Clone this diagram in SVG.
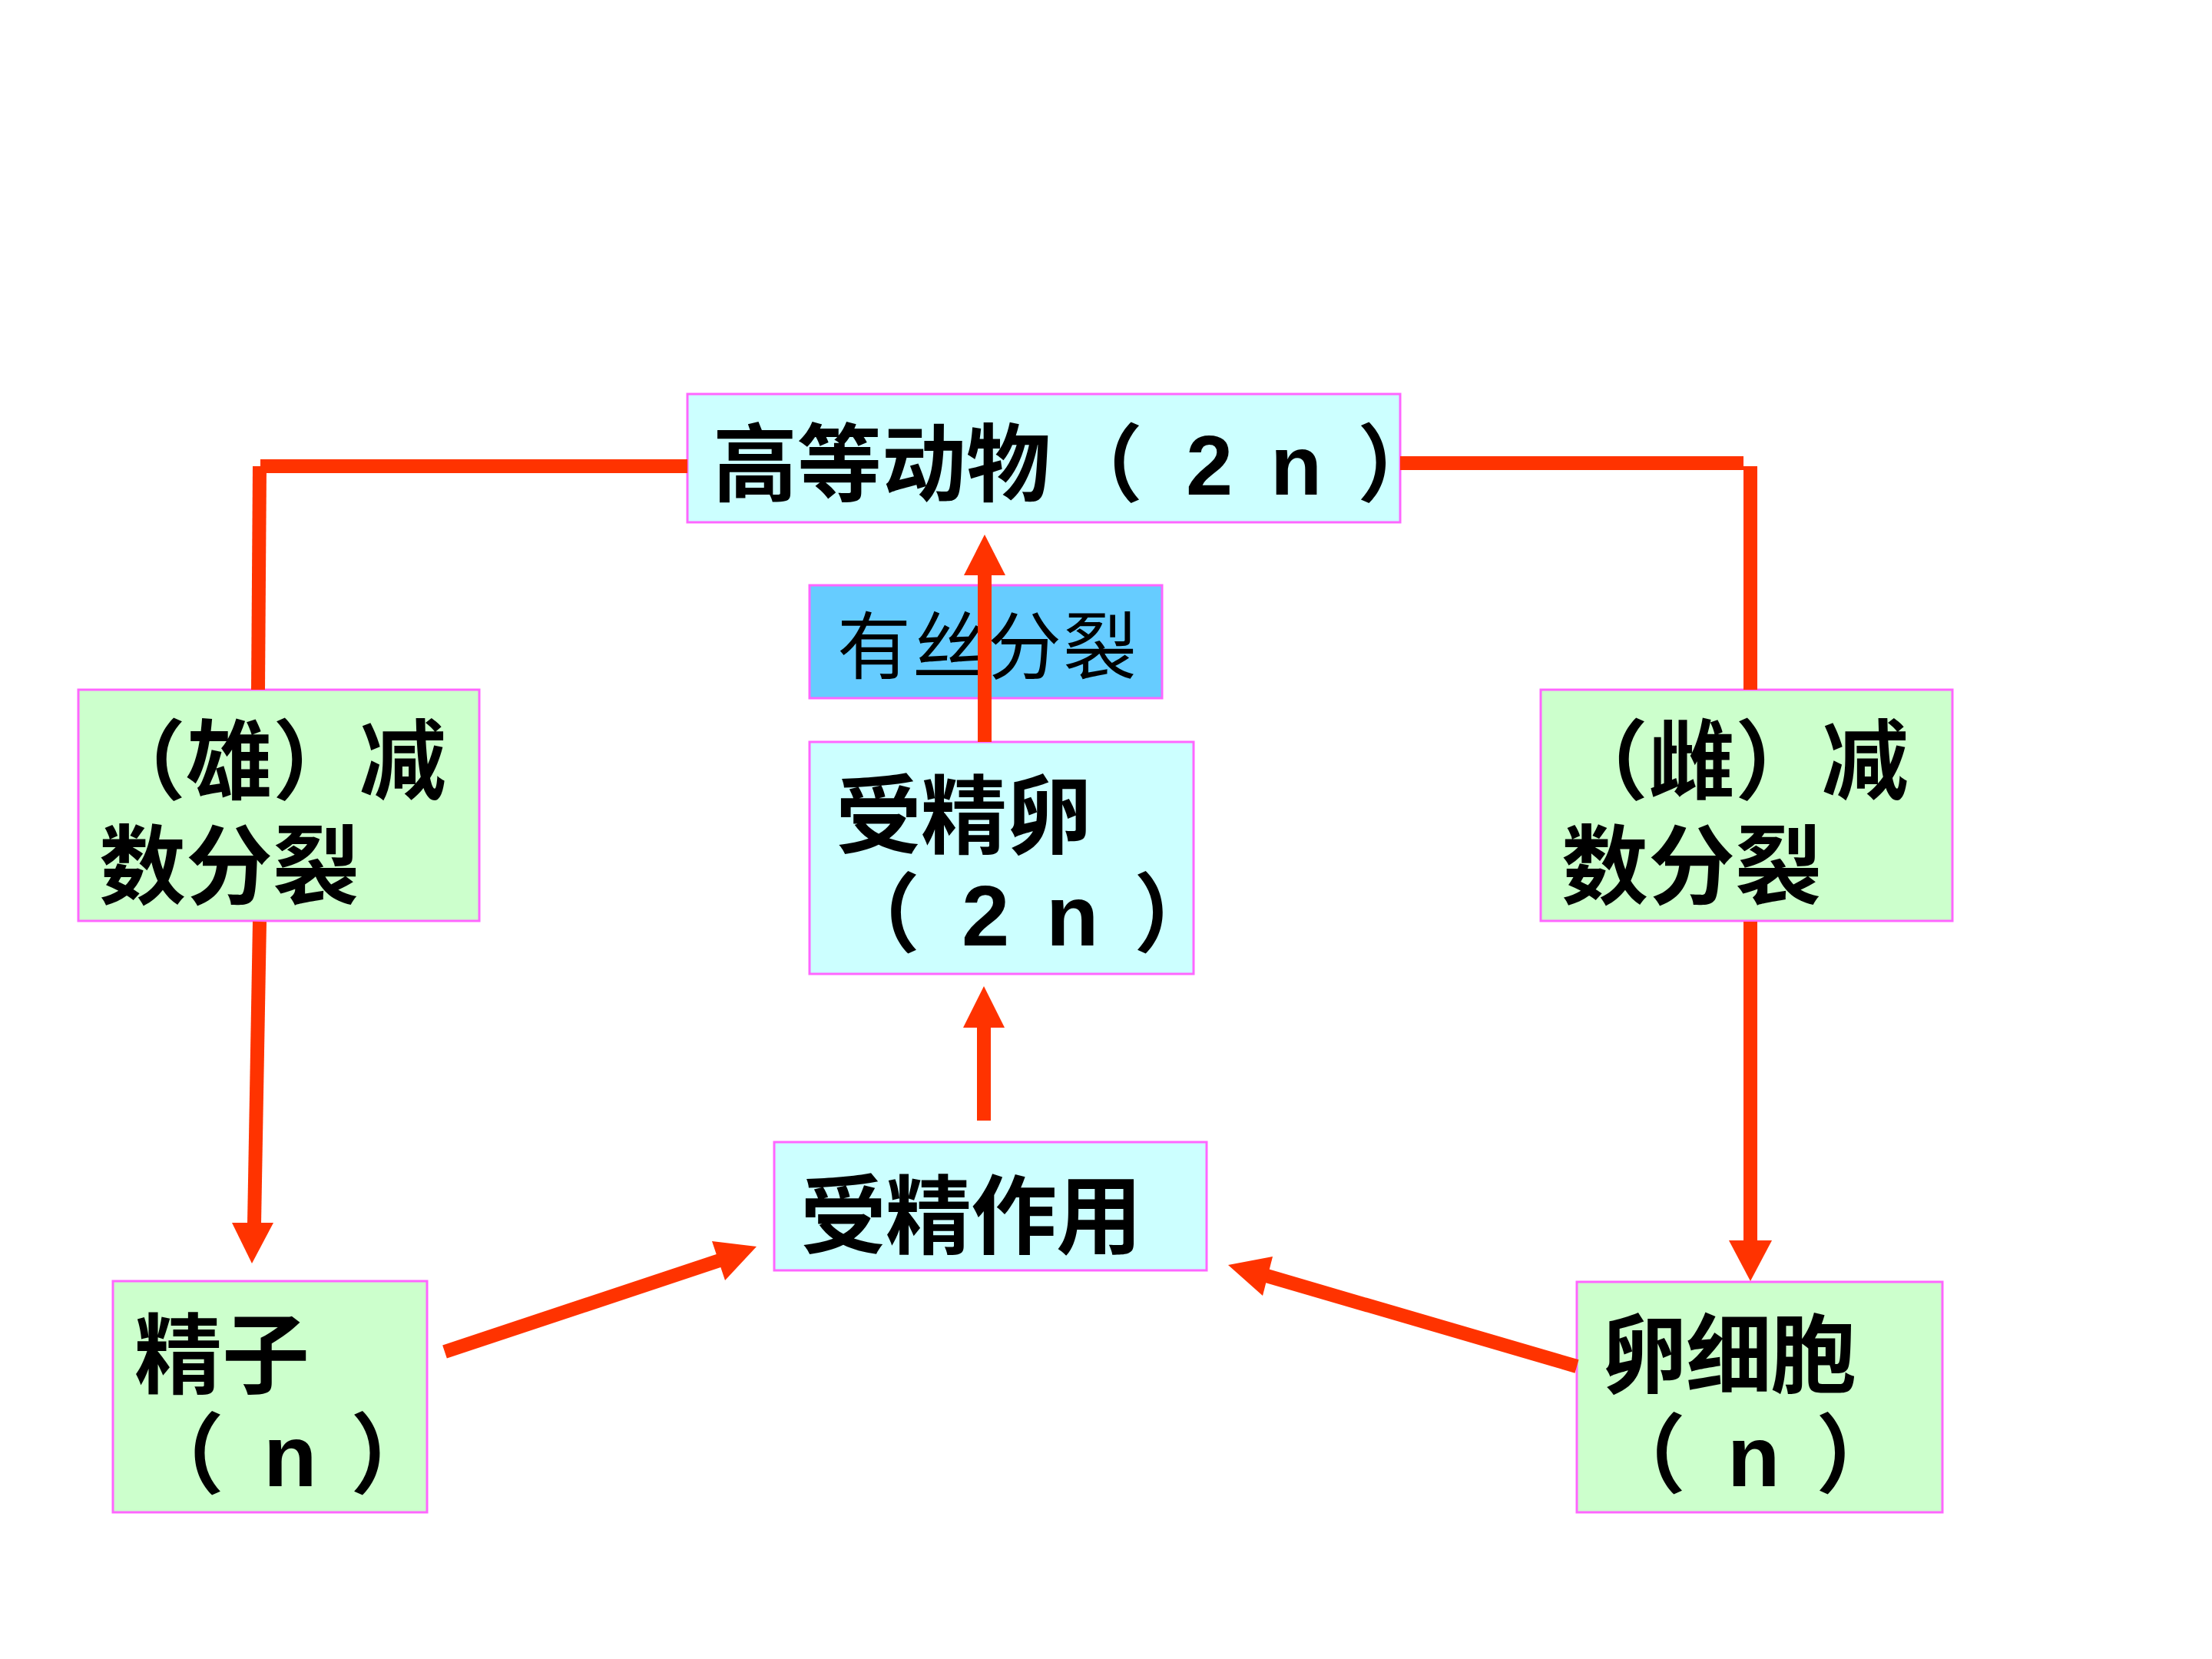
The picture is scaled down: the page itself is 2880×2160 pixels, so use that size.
<svg xmlns="http://www.w3.org/2000/svg" width="2880" height="2160" viewBox="0 0 2880 2160">
<defs>
<style>
.box{stroke:#FF66FF;stroke-width:3}
.green{fill:#CCFFCC}
.cyan{fill:#CCFFFF}
.blue{fill:#66CCFF}
.t{font-family:"Liberation Sans","Noto Sans CJK SC","Noto Sans CJK JP",sans-serif;font-weight:700;fill:#000}
.kai{font-family:"Noto Sans CJK SC","Noto Sans CJK JP",sans-serif;font-weight:400;fill:#000}
.ln{stroke:#FF3300;stroke-width:18;fill:none;stroke-linecap:butt}
.hd{fill:#FF3300}
</style>
</defs>
<rect width="2880" height="2160" fill="#fff"/>

<g id="node-top">
<rect class="box cyan" x="895" y="513" width="928" height="167"/>
<text class="t" font-size="110" x="928 1038 1148 1258 1378 1544 1654 1767" y="644">高等动物（2n）</text>
</g>

<g id="node-mitosis">
<rect class="box blue" x="1054" y="762" width="459" height="147"/>
<text class="kai" font-size="96" x="1090 1188 1286 1384" y="876">有丝分裂</text>
</g>

<g id="node-zygote">
<rect class="box cyan" x="1054" y="966" width="500" height="302"/>
<text class="t" font-size="112" x="1088 1199 1310" y="1103">受精卵</text>
<text class="t" font-size="112" x="1086 1252 1362 1476" y="1231">（2n）</text>
</g>

<g id="node-fert">
<rect class="box cyan" x="1008" y="1487" width="563" height="167"/>
<text class="t" font-size="112" x="1042 1153 1264 1375" y="1624">受精作用</text>
</g>

<g id="node-male-meiosis">
<rect class="box green" x="102" y="898" width="522" height="301"/>
<text class="t" font-size="113" x="129 242 355 468" y="1031">（雄）减</text>
<text class="t" font-size="113" x="129 242 355" y="1168">数分裂</text>
</g>

<g id="node-female-meiosis">
<rect class="box green" x="2006" y="898" width="536" height="301"/>
<text class="t" font-size="113" x="2033 2146 2259 2372" y="1031">（雌）减</text>
<text class="t" font-size="113" x="2033 2146 2259" y="1168">数分裂</text>
</g>

<g id="node-sperm">
<rect class="box green" x="147" y="1668" width="409" height="301"/>
<text class="t" font-size="114" x="175 289" y="1805">精子</text>
<text class="t" font-size="114" x="178 343 456" y="1935">（n）</text>
</g>

<g id="node-egg">
<rect class="box green" x="2053" y="1669" width="476" height="300"/>
<text class="t" font-size="112" x="2085 2195 2305" y="1805">卵细胞</text>
<text class="t" font-size="112" x="2083 2249 2364" y="1935">（n）</text>
</g>

<g id="connectors">
<line class="ln" x1="339" y1="607" x2="895" y2="607"/>
<line class="ln" x1="338" y1="607" x2="336" y2="898"/>
<line class="ln" x1="1823" y1="603" x2="2270" y2="603"/>
<line class="ln" x1="2279" y1="607" x2="2279" y2="898"/>

<line class="ln" x1="338" y1="1200" x2="331" y2="1594"/>
<polygon class="hd" points="302,1592 356,1592 328,1645"/>

<line class="ln" x1="2279" y1="1200" x2="2279" y2="1617"/>
<polygon class="hd" points="2251,1615 2307,1615 2279,1668"/>

<line class="ln" x1="1281" y1="1459" x2="1281" y2="1336"/>
<polygon class="hd" points="1254,1338 1308,1338 1281,1284"/>

<line class="ln" x1="1282" y1="966" x2="1282" y2="747"/>
<polygon class="hd" points="1255,749 1309,749 1282,696"/>

<line class="ln" x1="579" y1="1760" x2="937" y2="1641"/>
<polygon class="hd" points="927,1616 944,1667 985,1623"/>

<line class="ln" x1="2053" y1="1779" x2="1649" y2="1661"/>
<polygon class="hd" points="1657,1636 1644,1687 1599,1647"/>
</g>
</svg>
